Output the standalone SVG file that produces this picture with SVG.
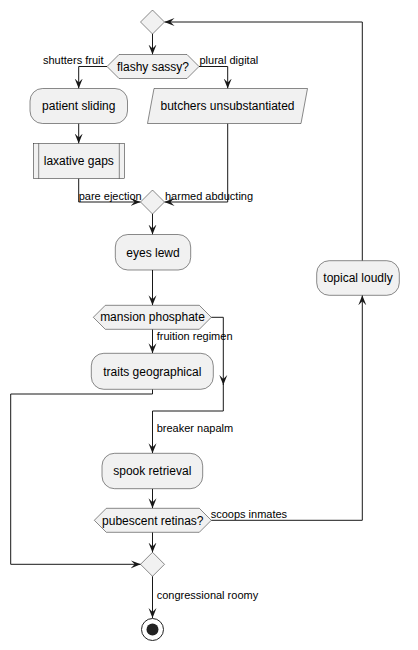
<svg xmlns="http://www.w3.org/2000/svg" width="418" height="650" viewBox="0 0 418 650">
<style>
.n{fill:#F1F1F1;stroke:#181818;stroke-width:0.5}
.t{font-family:"Liberation Sans",Arial,sans-serif;font-size:12px;fill:#000;text-anchor:middle}
.l{font-family:"Liberation Sans",Arial,sans-serif;font-size:11px;fill:#000}
.c{fill:none;stroke:#181818;stroke-width:1}
</style>
<defs>
<marker id="a" markerUnits="userSpaceOnUse" markerWidth="10" markerHeight="10" viewBox="0 0 10 10" refX="10" refY="5" orient="auto">
<path d="M0,1 L10,5 L0,9 L4,5 Z" fill="#181818"/>
</marker>
</defs>
<rect width="418" height="650" fill="#FFFFFF"/>
<g id="connectors">
<path class="c" d="M152.5,34 V54.5" marker-end="url(#a)"/>
<path class="c" d="M107,66.5 H78.7 V88.5" marker-end="url(#a)"/>
<path class="c" d="M199,66.5 H227.7 V88.5" marker-end="url(#a)"/>
<path class="c" d="M78.7,123.5 V143.5" marker-end="url(#a)"/>
<path class="c" d="M78.7,178.5 V202 H140.5" marker-end="url(#a)"/>
<path class="c" d="M227.7,123.5 V202 H164.5" marker-end="url(#a)"/>
<path class="c" d="M152.5,214 V234.5" marker-end="url(#a)"/>
<path class="c" d="M152.5,270 V305.3" marker-end="url(#a)"/>
<path class="c" d="M152.5,329.3 V353.3" marker-end="url(#a)"/>
<path class="c" d="M211.3,317.3 H223.3 V385" marker-end="url(#a)"/>
<path class="c" d="M223.3,384 V411 H152.5 V453.3" marker-end="url(#a)"/>
<path class="c" d="M152.5,389.3 V394 H10.7 V564.3 H140.7" marker-end="url(#a)"/>
<path class="c" d="M152.5,488.7 V508.3" marker-end="url(#a)"/>
<path class="c" d="M211.3,520.3 H362.3 V295.3" marker-end="url(#a)"/>
<path class="c" d="M362.3,260.7 V22 H164.5" marker-end="url(#a)"/>
<path class="c" d="M152.5,532.3 V552.5" marker-end="url(#a)"/>
<path class="c" d="M152.5,576.3 V618" marker-end="url(#a)"/>
<text class="l" x="43" y="63.5">shutters fruit</text>
<text class="l" x="199.5" y="63.5">plural digital</text>
<text class="l" x="78.7" y="200">pare ejection</text>
<text class="l" x="165" y="200">harmed abducting</text>
<text class="l" x="156.7" y="339.5">fruition regimen</text>
<text class="l" x="156.7" y="432">breaker napalm</text>
<text class="l" x="210.7" y="517.5">scoops inmates</text>
<text class="l" x="156.7" y="598.5">congressional roomy</text>
</g>
<g id="start-merge"><polygon class="n" points="152.5,10 164.5,22 152.5,34 140.5,22"/></g>
<g id="flashy-sassy"><polygon class="n" points="107,66.5 119,54.5 187,54.5 199,66.5 187,78.5 119,78.5"/><text class="t" x="153" y="70.7">flashy sassy?</text></g>
<g id="patient-sliding"><rect class="n" x="30" y="88.5" width="97.5" height="35" rx="12.5"/><text class="t" x="78.75" y="110.3">patient sliding</text></g>
<g id="butchers"><polygon class="n" points="154,88.5 307.5,88.5 301,123.5 147.5,123.5"/><text class="t" x="227.5" y="110.3">butchers unsubstantiated</text></g>
<g id="laxative-gaps"><rect class="n" x="33.3" y="143.5" width="91" height="35"/><line class="n" x1="38.7" y1="143.5" x2="38.7" y2="178.5"/><line class="n" x1="119.3" y1="143.5" x2="119.3" y2="178.5"/><text class="t" x="78.8" y="165.3">laxative gaps</text></g>
<g id="merge1"><polygon class="n" points="152.5,190 164.5,202 152.5,214 140.5,202"/></g>
<g id="eyes-lewd"><rect class="n" x="115.3" y="234.5" width="75.4" height="35.5" rx="12.5"/><text class="t" x="153" y="256.5">eyes lewd</text></g>
<g id="mansion-phosphate"><polygon class="n" points="93.3,317.3 105.3,305.3 199.3,305.3 211.3,317.3 199.3,329.3 105.3,329.3"/><text class="t" x="152.5" y="321.3">mansion phosphate</text></g>
<g id="traits-geographical"><rect class="n" x="91.3" y="353.3" width="122" height="36" rx="12.5"/><text class="t" x="152.3" y="375.5">traits geographical</text></g>
<g id="spook-retrieval"><rect class="n" x="102" y="453.3" width="100.7" height="35.4" rx="12.5"/><text class="t" x="152.3" y="475.3">spook retrieval</text></g>
<g id="pubescent-retinas"><polygon class="n" points="94.3,520.3 106.3,508.3 199.3,508.3 211.3,520.3 199.3,532.3 106.3,532.3"/><text class="t" x="152.8" y="524.5">pubescent retinas?</text></g>
<g id="topical-loudly"><rect class="n" x="316.7" y="260.7" width="82.6" height="34.6" rx="12.5"/><text class="t" x="358" y="282.3">topical loudly</text></g>
<g id="merge2"><polygon class="n" points="152.5,552.3 164.5,564.3 152.5,576.3 140.5,564.3"/></g>
<g id="end"><circle cx="152.5" cy="629.5" r="11" fill="none" stroke="#222222" stroke-width="1"/><circle cx="152.5" cy="629.5" r="6" fill="#222222"/></g>
</svg>
